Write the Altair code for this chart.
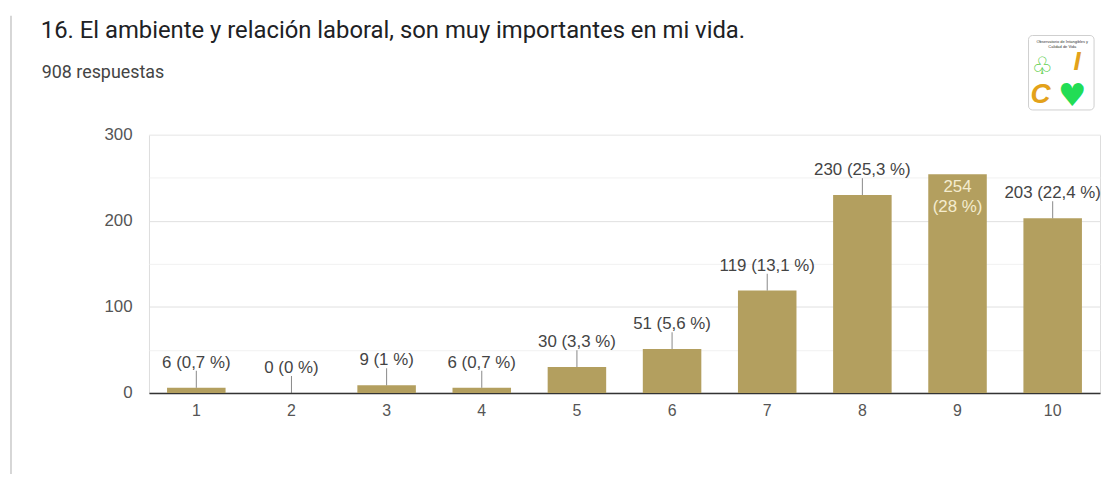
import altair as alt
import pandas as pd

categories = ["1", "2", "3", "4", "5", "6", "7", "8", "9", "10"]
counts = [6, 0, 9, 6, 30, 51, 119, 230, 254, 203]
percents = ["0,7", "0", "1", "0,7", "3,3", "5,6", "13,1", "25,3", "28", "22,4"]
y_ticks = [0, 50, 100, 150, 200, 250, 300]

title_text = "16. El ambiente y relación laboral, son muy importantes en mi vida."
subtitle_text = "908 respuestas"

BAR = "#b39f5f"
FONT = "Liberation Sans"

df = pd.DataFrame({
    "cat": categories,
    "count": counts,
    "label": [f"{c} ({p} %)" for c, p in zip(counts, percents)],
    "label2": [f"{c}\n({p} %)" for c, p in zip(counts, percents)],
})

xenc = alt.X("cat:N", sort=categories,
             scale=alt.Scale(paddingInner=0.385, paddingOuter=0.19),
             axis=alt.Axis(title=None, labelAngle=0, ticks=False, domainColor="#333333",
                           domainWidth=1.5, labelPadding=10, labelFontSize=16,
                           labelColor="#555555", labelFont=FONT, grid=False))
yscale = alt.Scale(domain=[0, 300], nice=False)
yenc = alt.Y("count:Q", scale=yscale,
             axis=alt.Axis(title=None, values=y_ticks, ticks=False, domain=False,
                           labelPadding=17, labelFontSize=17, labelColor="#555555",
                           labelFont=FONT,
                           labelExpr="datum.value % 100 == 0 ? datum.label : ''",
                           grid=True,
                           gridColor={"condition": {"test": "datum.value % 100 == 0 && datum.value < 300",
                                                    "value": "#e0e0e0"},
                                      "value": "#f1f1f1"}))

base = alt.Chart(df)
bars = base.mark_bar(color=BAR).encode(x=xenc, y=yenc)

outside = base.transform_filter("datum.cat != '9'")
leaders = outside.mark_tick(orient="vertical", size=17, thickness=1, yOffset=-8.5,
                            color="#555555").encode(x=alt.X("cat:N", sort=categories),
                                                    y="count:Q")
labels = outside.mark_text(baseline="alphabetic", dy=-20, fontSize=17, font=FONT,
                           color="#444444").encode(x=alt.X("cat:N", sort=categories),
                                                   y="count:Q", text="label:N")
inside = base.transform_filter("datum.cat == '9'").mark_text(
    baseline="top", dy=5, fontSize=17, font=FONT, color="#f4eccf", lineBreak="\n",
    lineHeight=20).encode(x=alt.X("cat:N", sort=categories), y="count:Q", text="label2:N")

one = pd.DataFrame({"k": [0]})
title = alt.Chart(one).mark_text(text=title_text, fontSize=24, font="Roboto",
                                 color="#202124", align="left",
                                 baseline="alphabetic").encode(
    x=alt.value(-109), y=alt.value(-97))
subtitle = alt.Chart(one).mark_text(text=subtitle_text, fontSize=18, font="Roboto",
                                    color="#444444", align="left",
                                    baseline="alphabetic").encode(
    x=alt.value(-108), y=alt.value(-57))
border = alt.Chart(one).mark_rule(color="#d6d6d6", strokeWidth=2).encode(
    x=alt.value(-139), y=alt.value(-120), y2=alt.value(350))

# logo approximation
logo_box = alt.Chart(one).mark_rect(fill="white", stroke="#cfcfcf", strokeWidth=1,
                                    cornerRadius=4).encode(
    x=alt.value(886), x2=alt.value(952), y=alt.value(-100), y2=alt.value(-25))
logo_t1 = alt.Chart(one).mark_text(text="Observatorio de Intangibles y", fontSize=4,
                                   font=FONT, color="#333333").encode(
    x=alt.value(920), y=alt.value(-93))
logo_t2 = alt.Chart(one).mark_text(text="Calidad de Vida", fontSize=4,
                                   font=FONT, color="#333333").encode(
    x=alt.value(920), y=alt.value(-88))
logo_clover = alt.Chart(one).mark_text(text="♧", fontSize=24, font="DejaVu Sans",
                                       color="#55cc44").encode(
    x=alt.value(900), y=alt.value(-68))
logo_i = alt.Chart(one).mark_text(text="I", fontSize=26, font=FONT, fontWeight="bold",
                                  fontStyle="italic", color="#e3a21a").encode(
    x=alt.value(935), y=alt.value(-73))
logo_c = alt.Chart(one).mark_text(text="C", fontSize=28, font=FONT, fontWeight="bold",
                                  fontStyle="italic", color="#e3a21a").encode(
    x=alt.value(898), y=alt.value(-40))
logo_h = alt.Chart(one).mark_text(text="♥", fontSize=32, font="DejaVu Sans",
                                  color="#22dd55").encode(
    x=alt.value(930), y=alt.value(-39))

chart = alt.layer(
    bars, leaders, labels, inside, title, subtitle, border,
    logo_box, logo_t1, logo_t2, logo_clover, logo_i, logo_c, logo_h
).properties(
    width=958, height=260,
    autosize=alt.AutoSizeParams(type="none"),
    padding={"left": 142, "top": 126, "right": 2, "bottom": 80},
).configure_view(stroke=None).configure(background="white")

chart.save("out.html", embed_options={"renderer": "svg", "actions": False})
